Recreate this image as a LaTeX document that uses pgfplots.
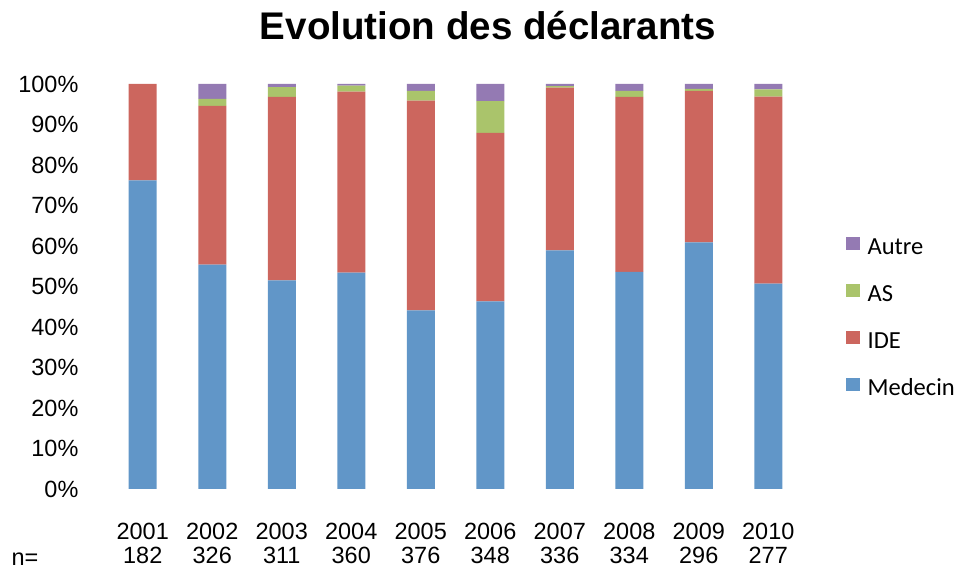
\documentclass[border=0pt]{standalone}
\usepackage{pgfplots}
\pgfplotsset{compat=1.18}
\usepackage{fontspec}
\setmainfont{Liberation Sans}
\newfontfamily\carlito{Carlito}
\definecolor{cMed}{HTML}{6196C8}
\definecolor{cIDE}{HTML}{CC665E}
\definecolor{cAS}{HTML}{AAC46B}
\definecolor{cAut}{HTML}{947AB3}
\begin{document}
\begin{tikzpicture}
\path[use as bounding box] (-81pt,-60.75pt) rectangle (636pt,366.75pt);
\begin{axis}[
  scale only axis, clip=false,
  width=521.25pt, height=303.75pt,
  ybar stacked, bar width=21pt,
  xmin=-0.5, xmax=9.5, ymin=0, ymax=100,
  axis line style={draw=none},
  major tick length=0pt,
  xtick={0,...,9},
  xticklabels={2001\\182,2002\\326,2003\\311,2004\\360,2005\\376,2006\\348,2007\\336,2008\\334,2009\\296,2010\\277},
  xticklabel style={align=center, anchor=north, inner sep=0pt, yshift=-25.5pt, font=\fontsize{17.6}{17.6}\selectfont},
  ytick={0,10,...,100},
  yticklabels={0\%,10\%,20\%,30\%,40\%,50\%,60\%,70\%,80\%,90\%,100\%},
  yticklabel style={anchor=east, inner sep=0pt, xshift=-22pt, font=\fontsize{17.6}{20}\selectfont},
  title={\textbf{Evolution des déclarants}},
  title style={at={(0.5468,1)}, anchor=base, yshift=27pt, inner sep=0pt, font=\fontsize{28.9}{32}\selectfont},
  legend style={draw=none, fill=none, at={(1.0619,0.624)}, anchor=north west, inner sep=0pt,
    row sep=17.5pt, column sep=6pt,
    nodes={inner sep=0pt, text height=13pt, text depth=4pt},
    font=\carlito\fontsize{18.4}{22}\selectfont},
  legend cell align=left,
  reverse legend,
  legend image code/.code={\fill[#1] (0pt,-0.55pt) rectangle (10pt,9.25pt);},
]
\addplot[fill=cMed, draw=none] coordinates {(0,76.2) (1,55.4) (2,51.5) (3,53.4) (4,44.1) (5,46.3) (6,58.9) (7,53.6) (8,60.9) (9,50.7)};
\addplot[fill=cIDE, draw=none] coordinates {(0,23.8) (1,39.2) (2,45.3) (3,44.7) (4,51.8) (5,41.6) (6,40.2) (7,43.2) (8,37.4) (9,46.2)};
\addplot[fill=cAS, draw=none] coordinates {(0,0) (1,1.7) (2,2.4) (3,1.5) (4,2.4) (5,7.9) (6,0.4) (7,1.5) (8,0.5) (9,1.8)};
\addplot[fill=cAut, draw=none] coordinates {(0,0) (1,3.7) (2,0.8) (3,0.4) (4,1.7) (5,4.2) (6,0.5) (7,1.7) (8,1.2) (9,1.3)};
\legend{Medecin,IDE,AS,Autre}
\node[anchor=base, inner sep=0pt, font=\fontsize{17.6}{20}\selectfont] at (axis description cs:-0.1194,-0.1901) {n=};
\end{axis}
\end{tikzpicture}
\end{document}
